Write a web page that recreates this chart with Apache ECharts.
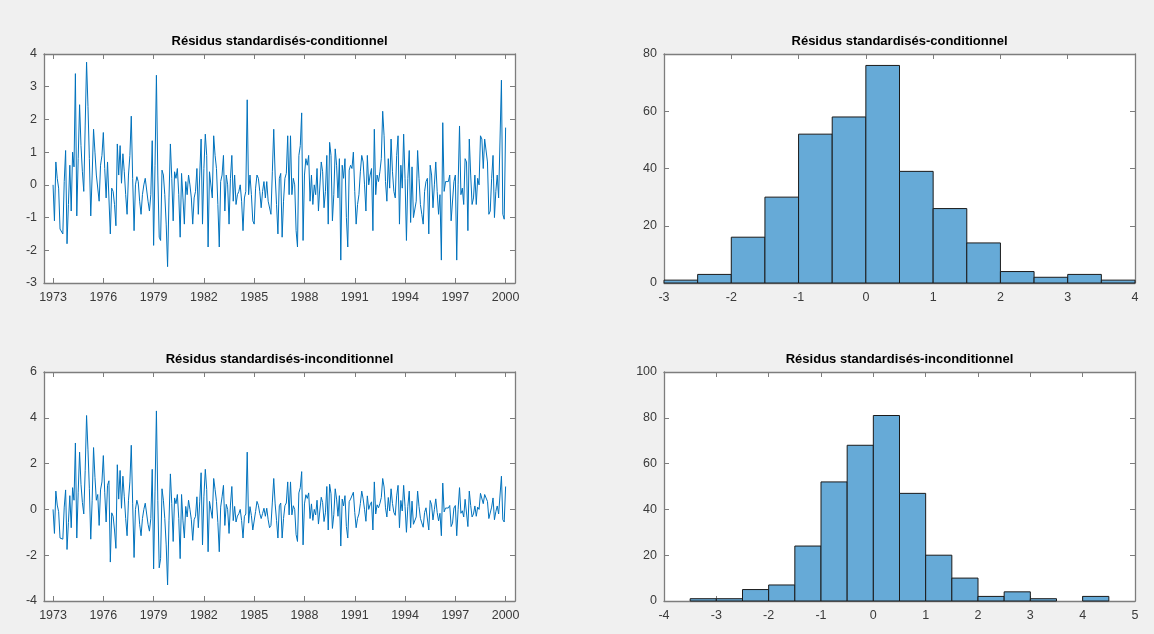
<!DOCTYPE html>
<html>
<head>
<meta charset="utf-8">
<script src="https://cdn.jsdelivr.net/npm/echarts@6/dist/echarts.min.js"></script>
<style>
html,body{margin:0;padding:0;background:#f0f0f0;}
#chart{width:1154px;height:634px;}
</style>
</head>
<body>
<div id="chart"></div>
<script>
// ---------- DATA ----------
const startYear = 1973;          // first monthly observation
const yearTicks = [1973, 1976, 1979, 1982, 1985, 1988, 1991, 1994, 1997, 2000];

const residCond = [
 0.0,-1.1,0.7,0.2,-0.1,-1.35,-1.4,-1.5,0.1,1.05,-1.8,-0.6,
 0.6,-0.8,1.0,0.55,3.4,-0.95,0.8,2.45,1.2,0.4,-0.2,1.8,
 3.75,2.4,0.8,-0.95,0.3,1.7,1.0,0.3,0.35,-0.5,0.6,0.9,
 1.6,0.5,-0.4,0.7,0.75,-1.5,-0.1,-0.2,-0.6,-1.25,1.25,0.3,
 1.2,0.05,0.95,0.4,-0.3,-0.9,0.3,0.9,2.1,0.2,-1.4,0.0,
 0.25,0.1,-0.5,-0.9,-0.3,0.0,0.2,0.15,-0.5,-0.8,-0.3,1.35,
 -1.85,0.6,3.35,0.3,-1.6,-1.7,0.45,0.3,-0.3,-1.2,-2.5,-0.4,
 1.25,0.2,-1.1,0.4,0.2,0.5,-0.3,-1.6,0.35,-0.4,-1.2,0.1,
 -0.3,0.3,0.0,-0.4,-1.2,-0.4,-0.2,0.5,-0.9,0.3,1.4,-1.2,
 0.5,1.55,0.9,-1.9,0.4,0.35,-0.4,1.5,0.9,0.5,-0.6,-1.9,
 0.1,0.3,0.9,-0.8,0.3,0.0,-1.2,0.2,0.9,-0.5,0.3,-0.6,
 -0.3,-0.2,0.0,-0.5,-1.4,-0.4,-0.2,2.6,-0.3,0.3,-0.3,-1.1,
 -1.2,-0.1,0.3,0.2,-0.2,-0.7,-0.2,0.1,-0.4,0.1,-0.5,-0.5,
 -0.9,0.4,1.7,0.3,-0.6,-1.5,0.2,0.35,-1.6,-0.5,0.2,0.35,
 1.5,-0.3,1.5,-0.3,0.2,0.0,-1.4,-1.9,0.9,1.2,2.2,-1.7,
 0.3,0.8,0.6,0.9,-0.5,0.3,-0.6,0.0,-0.3,0.5,-0.8,-0.8,
 0.7,0.4,-0.7,-0.2,0.9,-1.2,1.3,0.9,-1.1,-0.3,1.1,0.6,
 -0.4,0.8,-2.3,0.6,0.2,0.8,-1.0,-1.9,0.45,0.6,0.5,1.0,
 -0.2,-1.2,-0.6,-0.3,0.4,0.9,0.7,0.0,-0.8,0.9,0.0,0.3,
 0.5,-1.4,1.7,-0.3,0.3,0.1,0.4,0.8,2.25,1.5,0.1,-0.5,
 0.8,-0.1,1.4,0.4,-0.2,-0.4,0.9,1.5,-1.2,0.6,-0.1,1.55,
 0.2,-1.7,0.2,1.05,-1.15,0.55,-1.0,-1.0,-0.5,1.05,0.2,-0.6,
 -0.9,-1.2,-0.2,0.1,0.2,-1.5,0.6,0.3,-0.7,0.0,0.7,-0.2,
 -0.9,-0.3,-2.3,1.9,-0.2,0.1,0.1,0.1,0.3,-1.1,-1.1,0.1,
 0.3,-2.3,0.0,1.8,-0.3,-0.1,-0.6,0.8,0.7,-1.4,1.4,0.3,
 -0.6,-0.4,0.3,-0.6,0.2,0.0,1.5,1.4,0.5,1.4,1.45,0.7,
 -0.9,-0.8,0.2,0.9,-1.0,-0.2,0.3,-0.4,-0.4,3.2,-0.9,-1.05,
 1.75
];

const residUncond = [
 0.0,-1.05,0.8,0.19,-0.1,-1.25,-1.25,-1.3,0.1,0.85,-1.75,-0.57,
 0.6,-0.8,0.95,0.4,2.9,-1.25,0.75,2.5,1.1,0.3,-0.2,1.7,
 4.1,2.6,0.9,-1.3,0.4,2.7,1.4,0.4,0.65,-0.7,0.85,1.2,
 2.35,0.75,-0.55,1.05,1.25,-2.3,-0.15,-0.3,-0.9,-1.7,1.95,0.45,
 1.7,0.05,1.45,0.55,-0.4,-1.15,0.4,1.2,2.8,0.27,-2.1,0.0,
 0.4,0.15,-0.65,-1.15,-0.4,0.0,0.27,0.2,-0.65,-0.95,-0.4,1.75,
 -2.6,0.8,4.3,0.4,-2.55,-2.15,0.9,0.4,-0.4,-1.55,-3.3,-0.5,
 1.55,0.25,-1.4,0.5,0.25,0.65,-0.4,-2.15,0.65,-0.5,-1.25,0.13,
 -0.33,0.4,0.0,-0.45,-1.35,-0.45,-0.3,0.55,-0.8,0.33,1.6,-1.55,
 0.55,1.75,0.87,-1.85,0.35,0.34,-0.39,1.35,0.87,0.35,-0.58,-1.85,
 0.1,0.55,1.05,-0.7,0.22,0.0,-1.05,0.19,1.0,-0.49,0.13,-0.55,
 -0.29,-0.19,0.0,-0.49,-1.25,-0.3,-0.2,2.5,-0.6,0.12,-0.27,-0.9,
 -0.97,-0.09,0.35,0.18,-0.18,-0.4,-0.18,0.05,-0.3,0.05,-0.45,-0.8,
 -0.7,0.32,1.35,0.24,-0.48,-1.25,0.16,0.28,-1.25,-0.4,0.16,0.28,
 1.2,-0.24,1.2,-0.24,0.16,0.0,-1.1,-1.4,0.72,0.95,1.65,-1.55,
 0.24,0.64,0.48,0.72,-0.4,0.24,-0.48,0.0,-0.24,0.4,-0.64,-0.6,
 0.53,0.3,-0.53,-0.15,1.0,-0.9,1.1,0.68,-0.83,-0.23,0.9,0.45,
 -0.3,0.6,-1.6,0.45,0.15,0.6,-0.75,-1.25,0.34,0.45,0.38,0.75,
 -0.13,-0.8,-0.39,-0.2,0.26,0.8,0.46,0.0,-0.52,0.59,0.0,0.2,
 0.33,-0.9,1.2,-0.2,0.2,0.07,0.26,0.52,1.35,0.98,0.07,-0.33,
 0.52,-0.07,0.9,0.26,-0.13,-0.26,0.59,1.05,-0.8,0.39,-0.07,1.05,
 0.13,-1.0,0.13,0.8,-0.8,0.36,-0.65,-0.65,-0.33,0.8,0.13,-0.39,
 -0.59,-0.78,-0.13,0.07,0.13,-0.9,0.39,0.2,-0.46,0.0,0.46,-0.13,
 -0.5,-0.17,-1.15,1.15,-0.11,0.06,0.06,0.06,0.17,-0.75,-0.6,0.06,
 0.17,-1.15,0.0,0.95,-0.17,-0.06,-0.33,0.44,0.39,-0.75,0.8,0.17,
 -0.33,-0.2,0.15,-0.3,0.1,0.0,0.7,0.65,0.25,0.65,0.7,0.35,
 -0.4,-0.4,0.1,0.5,-0.45,-0.1,0.15,-0.2,-0.2,1.45,-0.45,-0.55,
 1.0
];

const condBinEdges = [-3,-2.5,-2,-1.5,-1,-0.5,0,0.5,1,1.5,2,2.5,3,3.5,4];
const condCounts   = [1,3,16,30,52,58,76,39,26,14,4,2,3,1];
const uncBinEdges  = [-3.5,-3,-2.5,-2,-1.5,-1,-0.5,0,0.5,1,1.5,2,2.5,3,3.5,4,4.5];
const uncCounts    = [1,1,5,7,24,52,68,81,47,20,10,2,4,1,0,2];

const titleCond = 'Résidus standardisés-conditionnel';
const titleUnc  = 'Résidus standardisés-inconditionnel';

// ---------- BUILD ----------
const FONT = '"Liberation Sans", Arial, Helvetica, sans-serif';
const AX = '#7d7d7d';
const LBL = '#3a3a3a';
const LINE = '#0072BD';
const BARFILL = '#66AAD7';

function tsPairs(vals){ return vals.map((v,i)=>[startYear + i/12, v]); }
function histData(edges, counts){
  const out=[]; for(let i=0;i<counts.length;i++){ out.push([edges[i], edges[i+1], counts[i]]); } return out;
}
const plainNum = v => String(Math.round(v*1000)/1000);

const grids = [
  {left:44, top:54, width:471, height:229},
  {left:664, top:54, width:471, height:229},
  {left:44, top:372, width:471, height:229},
  {left:664, top:372, width:471, height:229}
];

function xAxisPair(g, min, max, interval, custom){
  const base = {
    type:'value', gridIndex:g, min:min, max:max, splitLine:{show:false},
    axisLine:{show:true, onZero:false, lineStyle:{color:AX, width:1.3}}
  };
  if(interval!=null) base.interval = interval;
  const bottom = Object.assign({}, base, {
    position:'bottom',
    axisTick:{show:true, inside:true, length:5, lineStyle:{color:AX}},
    axisLabel:{show:true, color:LBL, fontSize:12.5, fontFamily:FONT, margin:8, formatter:plainNum}
  });
  const top = Object.assign({}, base, {
    position:'top',
    axisTick:{show:true, inside:true, length:5, lineStyle:{color:AX}},
    axisLabel:{show:false}
  });
  if(custom){
    bottom.axisTick.customValues = custom; bottom.axisLabel.customValues = custom;
    top.axisTick.customValues = custom; top.axisLabel.customValues = custom;
  }
  return [bottom, top];
}
function yAxisPair(g, min, max, interval){
  const base = {
    type:'value', gridIndex:g, min:min, max:max, interval:interval, splitLine:{show:false},
    axisLine:{show:true, onZero:false, lineStyle:{color:AX, width:1.3}}
  };
  const left = Object.assign({}, base, {
    position:'left',
    axisTick:{show:true, inside:true, length:5, lineStyle:{color:AX}},
    axisLabel:{show:true, color:LBL, fontSize:12.5, fontFamily:FONT, margin:7, formatter:plainNum}
  });
  const right = Object.assign({}, base, {
    position:'right',
    axisTick:{show:true, inside:true, length:5, lineStyle:{color:AX}},
    axisLabel:{show:false}
  });
  return [left, right];
}

const xAxes = [].concat(
  xAxisPair(0, 1972.46, 2000.56, null, yearTicks),
  xAxisPair(1, -3, 4, 1),
  xAxisPair(2, 1972.46, 2000.56, null, yearTicks),
  xAxisPair(3, -4, 5, 1)
);
const yAxes = [].concat(
  yAxisPair(0, -3, 4, 1),
  yAxisPair(1, 0, 80, 20),
  yAxisPair(2, -4, 6, 2),
  yAxisPair(3, 0, 100, 20)
);

function histRender(params, api){
  const lo = api.value(0), hi = api.value(1), c = api.value(2);
  if(!c) return null;
  const p0 = api.coord([lo, c]);
  const p1 = api.coord([hi, 0]);
  return {
    type:'rect',
    shape:{x:p0[0], y:p0[1], width:p1[0]-p0[0], height:p1[1]-p0[1]},
    style:{fill:BARFILL, stroke:'#1a1a1a', lineWidth:1}
  };
}

const series = [
  {type:'line', xAxisIndex:0, yAxisIndex:0, data:tsPairs(residCond), showSymbol:false, symbol:'none',
   lineStyle:{color:LINE, width:1}, animation:false},
  {type:'custom', xAxisIndex:2, yAxisIndex:2, data:histData(condBinEdges, condCounts), renderItem:histRender,
   encode:{x:[0,1], y:2}, animation:false},
  {type:'line', xAxisIndex:4, yAxisIndex:4, data:tsPairs(residUncond), showSymbol:false, symbol:'none',
   lineStyle:{color:LINE, width:1}, animation:false},
  {type:'custom', xAxisIndex:6, yAxisIndex:6, data:histData(uncBinEdges, uncCounts), renderItem:histRender,
   encode:{x:[0,1], y:2}, animation:false}
];

const titles = [titleCond, titleCond, titleUnc, titleUnc];
const graphic = grids.map((g,i)=>({
  type:'text', x:g.left + g.width/2, y:g.top - 13,
  style:{text:titles[i], font:'bold 13px ' + FONT, fill:'#000', textAlign:'center', textVerticalAlign:'middle'}
}));

const chart = echarts.init(document.getElementById('chart'), null, {renderer:'canvas'});
chart.setOption({
  backgroundColor:'#f0f0f0',
  animation:false,
  grid: grids.map(g=>Object.assign({show:true, backgroundColor:'#ffffff', borderWidth:0, containLabel:false}, g)),
  xAxis: xAxes,
  yAxis: yAxes,
  series: series,
  graphic: graphic
});
</script>
</body>
</html>
